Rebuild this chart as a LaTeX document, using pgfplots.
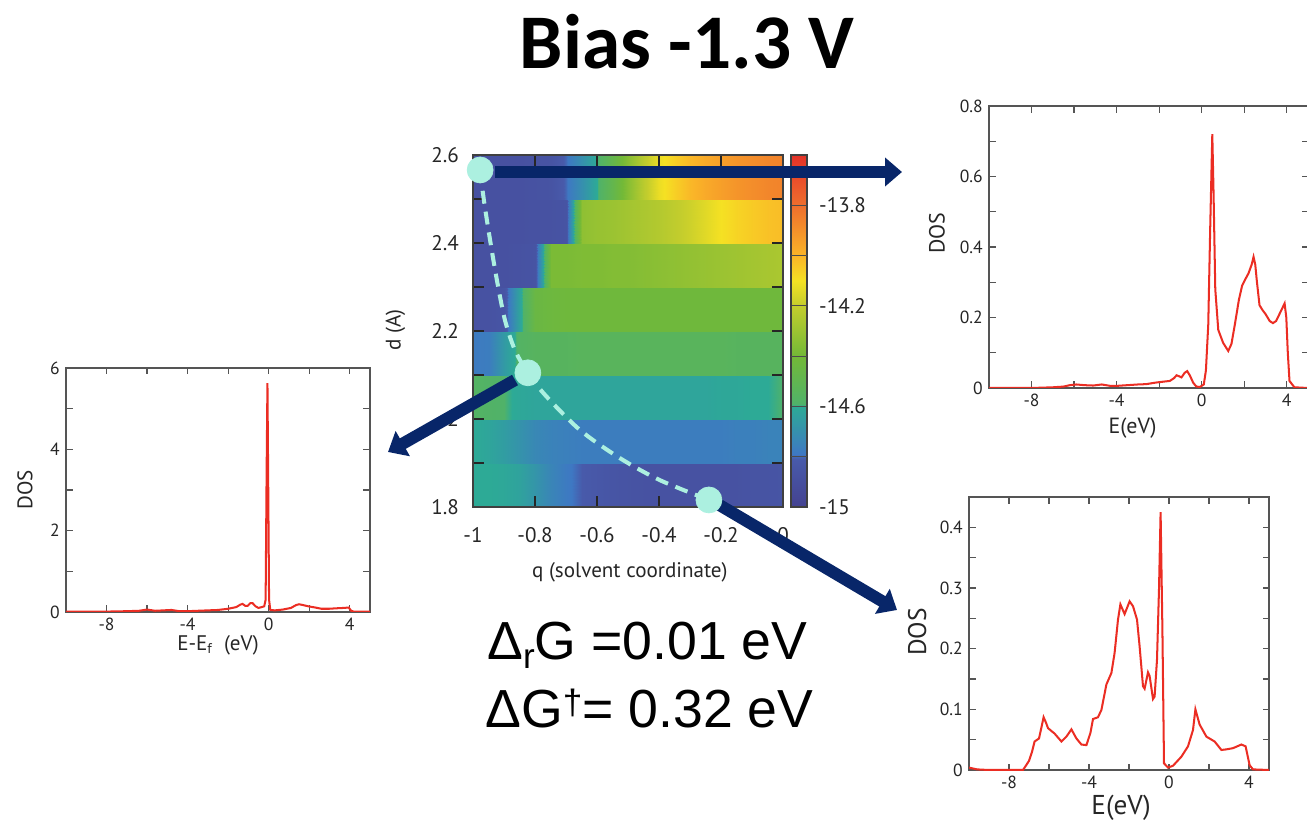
\documentclass[border=0pt]{standalone}
\usepackage{fontspec}
\setmainfont{PT Sans}
\newfontfamily\titlefont{Carlito}
\newfontfamily\eqfont{Liberation Sans}
\usepackage{pgfplots}
\pgfplotsset{compat=1.18}
\usetikzlibrary{arrows.meta}

\definecolor{navy}{RGB}{8,38,105}
\definecolor{aqua}{RGB}{172,240,224}
\definecolor{dosred}{RGB}{235,45,35}
\definecolor{frame}{RGB}{85,85,85}

\pgfplotsset{
  colormap={energy}{rgb255(0pt)=(68,66,145); rgb255(19pt)=(72,90,170);
    rgb255(21pt)=(62,120,195); rgb255(40pt)=(45,170,150); rgb255(41pt)=(80,178,105);
    rgb255(60pt)=(115,185,55); rgb255(80pt)=(195,205,45); rgb255(90pt)=(245,225,35);
    rgb255(100pt)=(250,180,40); rgb255(120pt)=(238,110,45); rgb255(140pt)=(228,50,40)},
  every axis/.append style={/pgf/number format/assume math mode=true},
  dos/.style={
    scale only axis, anchor=south west,
    xmin=-10, xmax=5, xtick={-8,-4,0,4}, minor xtick={-6,-2,2},
    tick align=inside, major tick length=0.13cm, minor tick length=0.13cm,
    axis line style={frame, line width=0.8pt},
    tick style={frame, line width=0.7pt},
    tick label style={font=\fontsize{10}{10}\selectfont, text=black!85},
    label style={text=black!85},
    ylabel={DOS},
  },
  dosline/.style={dosred, line width=1.15pt, mark=none},
}

\begin{document}
\begin{tikzpicture}
\useasboundingbox (0,0) rectangle (26.14cm,16.5cm);

% ---- energy map d vs q ----
\begin{axis}[
  at={(9.46cm,6.36cm)}, anchor=south west, scale only axis,
  width=6.2cm, height=7.04cm,
  xmin=-1, xmax=0, ymin=1.8, ymax=2.6,
  axis on top, colormap name=energy,
  point meta min=-15, point meta max=-13.6,
  xtick={-1,-0.8,-0.6,-0.4,-0.2,0},
  ytick={1.8,2,2.2,2.4,2.6}, minor ytick={1.9,2.1,2.3,2.5},
  tick align=inside, major tick length=0.22cm, minor tick length=0.22cm,
  tick style={black!85, line width=0.8pt},
  axis line style={black!75, line width=1pt},
  tick label style={font=\fontsize{12}{12}\selectfont, text=black!85},
  xticklabel style={yshift=-0.28cm}, yticklabel style={xshift=-0.16cm},
  label style={font=\fontsize{12}{13}\selectfont, text=black!85},
  xlabel={q (solvent coordinate)}, ylabel={d (A)},
  xlabel style={at={(axis description cs:0.506,-0.185)}, anchor=center},
  ylabel style={at={(axis description cs:-0.25,0.503)}, anchor=center},
]
\addplot[surf, shader=interp, mesh/cols=21, point meta=explicit] coordinates {
(-1,1.8)[-14.6] (-0.95,1.8)[-14.6] (-0.9,1.8)[-14.61] (-0.85,1.8)[-14.63] (-0.8,1.8)[-14.68] (-0.75,1.8)[-14.74] (-0.7,1.8)[-14.78] (-0.65,1.8)[-14.81] (-0.6,1.8)[-14.83] (-0.55,1.8)[-14.85] (-0.5,1.8)[-14.86] (-0.45,1.8)[-14.87] (-0.4,1.8)[-14.87] (-0.35,1.8)[-14.87] (-0.3,1.8)[-14.87] (-0.25,1.8)[-14.87] (-0.2,1.8)[-14.87] (-0.15,1.8)[-14.87] (-0.1,1.8)[-14.86] (-0.05,1.8)[-14.86] (0,1.8)[-14.85]
(-1,1.8995)[-14.6] (-0.95,1.8995)[-14.6] (-0.9,1.8995)[-14.61] (-0.85,1.8995)[-14.63] (-0.8,1.8995)[-14.68] (-0.75,1.8995)[-14.74] (-0.7,1.8995)[-14.78] (-0.65,1.8995)[-14.81] (-0.6,1.8995)[-14.83] (-0.55,1.8995)[-14.85] (-0.5,1.8995)[-14.86] (-0.45,1.8995)[-14.87] (-0.4,1.8995)[-14.87] (-0.35,1.8995)[-14.87] (-0.3,1.8995)[-14.87] (-0.25,1.8995)[-14.87] (-0.2,1.8995)[-14.87] (-0.15,1.8995)[-14.87] (-0.1,1.8995)[-14.86] (-0.05,1.8995)[-14.86] (0,1.8995)[-14.85]
(-1,1.9)[-14.6] (-0.95,1.9)[-14.62] (-0.9,1.9)[-14.65] (-0.85,1.9)[-14.69] (-0.8,1.9)[-14.73] (-0.75,1.9)[-14.75] (-0.7,1.9)[-14.76] (-0.65,1.9)[-14.77] (-0.6,1.9)[-14.77] (-0.55,1.9)[-14.77] (-0.5,1.9)[-14.77] (-0.45,1.9)[-14.77] (-0.4,1.9)[-14.77] (-0.35,1.9)[-14.77] (-0.3,1.9)[-14.77] (-0.25,1.9)[-14.77] (-0.2,1.9)[-14.77] (-0.15,1.9)[-14.76] (-0.1,1.9)[-14.76] (-0.05,1.9)[-14.75] (0,1.9)[-14.75]
(-1,1.9995)[-14.6] (-0.95,1.9995)[-14.62] (-0.9,1.9995)[-14.65] (-0.85,1.9995)[-14.69] (-0.8,1.9995)[-14.73] (-0.75,1.9995)[-14.75] (-0.7,1.9995)[-14.76] (-0.65,1.9995)[-14.77] (-0.6,1.9995)[-14.77] (-0.55,1.9995)[-14.77] (-0.5,1.9995)[-14.77] (-0.45,1.9995)[-14.77] (-0.4,1.9995)[-14.77] (-0.35,1.9995)[-14.77] (-0.3,1.9995)[-14.77] (-0.25,1.9995)[-14.77] (-0.2,1.9995)[-14.77] (-0.15,1.9995)[-14.76] (-0.1,1.9995)[-14.76] (-0.05,1.9995)[-14.75] (0,1.9995)[-14.75]
(-1,2.0)[-14.57] (-0.95,2.0)[-14.58] (-0.9,2.0)[-14.59] (-0.85,2.0)[-14.61] (-0.8,2.0)[-14.62] (-0.75,2.0)[-14.62] (-0.7,2.0)[-14.62] (-0.65,2.0)[-14.62] (-0.6,2.0)[-14.62] (-0.55,2.0)[-14.62] (-0.5,2.0)[-14.62] (-0.45,2.0)[-14.62] (-0.4,2.0)[-14.62] (-0.35,2.0)[-14.62] (-0.3,2.0)[-14.62] (-0.25,2.0)[-14.62] (-0.2,2.0)[-14.61] (-0.15,2.0)[-14.61] (-0.1,2.0)[-14.6] (-0.05,2.0)[-14.6] (0,2.0)[-14.59]
(-1,2.0995)[-14.57] (-0.95,2.0995)[-14.58] (-0.9,2.0995)[-14.59] (-0.85,2.0995)[-14.61] (-0.8,2.0995)[-14.62] (-0.75,2.0995)[-14.62] (-0.7,2.0995)[-14.62] (-0.65,2.0995)[-14.62] (-0.6,2.0995)[-14.62] (-0.55,2.0995)[-14.62] (-0.5,2.0995)[-14.62] (-0.45,2.0995)[-14.62] (-0.4,2.0995)[-14.62] (-0.35,2.0995)[-14.62] (-0.3,2.0995)[-14.62] (-0.25,2.0995)[-14.62] (-0.2,2.0995)[-14.61] (-0.15,2.0995)[-14.61] (-0.1,2.0995)[-14.6] (-0.05,2.0995)[-14.6] (0,2.0995)[-14.59]
(-1,2.1)[-14.78] (-0.95,2.1)[-14.77] (-0.9,2.1)[-14.66] (-0.85,2.1)[-14.57] (-0.8,2.1)[-14.55] (-0.75,2.1)[-14.55] (-0.7,2.1)[-14.55] (-0.65,2.1)[-14.54] (-0.6,2.1)[-14.54] (-0.55,2.1)[-14.54] (-0.5,2.1)[-14.54] (-0.45,2.1)[-14.54] (-0.4,2.1)[-14.54] (-0.35,2.1)[-14.54] (-0.3,2.1)[-14.54] (-0.25,2.1)[-14.54] (-0.2,2.1)[-14.54] (-0.15,2.1)[-14.55] (-0.1,2.1)[-14.55] (-0.05,2.1)[-14.55] (0,2.1)[-14.55]
(-1,2.1995)[-14.78] (-0.95,2.1995)[-14.77] (-0.9,2.1995)[-14.66] (-0.85,2.1995)[-14.57] (-0.8,2.1995)[-14.55] (-0.75,2.1995)[-14.55] (-0.7,2.1995)[-14.55] (-0.65,2.1995)[-14.54] (-0.6,2.1995)[-14.54] (-0.55,2.1995)[-14.54] (-0.5,2.1995)[-14.54] (-0.45,2.1995)[-14.54] (-0.4,2.1995)[-14.54] (-0.35,2.1995)[-14.54] (-0.3,2.1995)[-14.54] (-0.25,2.1995)[-14.54] (-0.2,2.1995)[-14.54] (-0.15,2.1995)[-14.55] (-0.1,2.1995)[-14.55] (-0.05,2.1995)[-14.55] (0,2.1995)[-14.55]
(-1,2.2)[-14.87] (-0.95,2.2)[-14.87] (-0.9,2.2)[-14.85] (-0.85,2.2)[-14.62] (-0.8,2.2)[-14.45] (-0.75,2.2)[-14.43] (-0.7,2.2)[-14.42] (-0.65,2.2)[-14.42] (-0.6,2.2)[-14.42] (-0.55,2.2)[-14.42] (-0.5,2.2)[-14.42] (-0.45,2.2)[-14.42] (-0.4,2.2)[-14.42] (-0.35,2.2)[-14.42] (-0.3,2.2)[-14.42] (-0.25,2.2)[-14.42] (-0.2,2.2)[-14.42] (-0.15,2.2)[-14.42] (-0.1,2.2)[-14.42] (-0.05,2.2)[-14.42] (0,2.2)[-14.42]
(-1,2.2995)[-14.87] (-0.95,2.2995)[-14.87] (-0.9,2.2995)[-14.85] (-0.85,2.2995)[-14.62] (-0.8,2.2995)[-14.45] (-0.75,2.2995)[-14.43] (-0.7,2.2995)[-14.42] (-0.65,2.2995)[-14.42] (-0.6,2.2995)[-14.42] (-0.55,2.2995)[-14.42] (-0.5,2.2995)[-14.42] (-0.45,2.2995)[-14.42] (-0.4,2.2995)[-14.42] (-0.35,2.2995)[-14.42] (-0.3,2.2995)[-14.42] (-0.25,2.2995)[-14.42] (-0.2,2.2995)[-14.42] (-0.15,2.2995)[-14.42] (-0.1,2.2995)[-14.42] (-0.05,2.2995)[-14.42] (0,2.2995)[-14.42]
(-1,2.3)[-14.88] (-0.95,2.3)[-14.88] (-0.9,2.3)[-14.88] (-0.85,2.3)[-14.87] (-0.8,2.3)[-14.86] (-0.75,2.3)[-14.38] (-0.7,2.3)[-14.38] (-0.65,2.3)[-14.37] (-0.6,2.3)[-14.37] (-0.55,2.3)[-14.36] (-0.5,2.3)[-14.36] (-0.45,2.3)[-14.35] (-0.4,2.3)[-14.34] (-0.35,2.3)[-14.33] (-0.3,2.3)[-14.32] (-0.25,2.3)[-14.31] (-0.2,2.3)[-14.3] (-0.15,2.3)[-14.29] (-0.1,2.3)[-14.28] (-0.05,2.3)[-14.27] (0,2.3)[-14.26]
(-1,2.3995)[-14.88] (-0.95,2.3995)[-14.88] (-0.9,2.3995)[-14.88] (-0.85,2.3995)[-14.87] (-0.8,2.3995)[-14.86] (-0.75,2.3995)[-14.38] (-0.7,2.3995)[-14.38] (-0.65,2.3995)[-14.37] (-0.6,2.3995)[-14.37] (-0.55,2.3995)[-14.36] (-0.5,2.3995)[-14.36] (-0.45,2.3995)[-14.35] (-0.4,2.3995)[-14.34] (-0.35,2.3995)[-14.33] (-0.3,2.3995)[-14.32] (-0.25,2.3995)[-14.31] (-0.2,2.3995)[-14.3] (-0.15,2.3995)[-14.29] (-0.1,2.3995)[-14.28] (-0.05,2.3995)[-14.27] (0,2.3995)[-14.26]
(-1,2.4)[-14.88] (-0.95,2.4)[-14.88] (-0.9,2.4)[-14.88] (-0.85,2.4)[-14.88] (-0.8,2.4)[-14.87] (-0.75,2.4)[-14.87] (-0.7,2.4)[-14.86] (-0.65,2.4)[-14.33] (-0.6,2.4)[-14.31] (-0.55,2.4)[-14.3] (-0.5,2.4)[-14.28] (-0.45,2.4)[-14.26] (-0.4,2.4)[-14.24] (-0.35,2.4)[-14.21] (-0.3,2.4)[-14.18] (-0.25,2.4)[-14.14] (-0.2,2.4)[-14.1] (-0.15,2.4)[-14.07] (-0.1,2.4)[-14.05] (-0.05,2.4)[-14.03] (0,2.4)[-14.02]
(-1,2.4995)[-14.88] (-0.95,2.4995)[-14.88] (-0.9,2.4995)[-14.88] (-0.85,2.4995)[-14.88] (-0.8,2.4995)[-14.87] (-0.75,2.4995)[-14.87] (-0.7,2.4995)[-14.86] (-0.65,2.4995)[-14.33] (-0.6,2.4995)[-14.31] (-0.55,2.4995)[-14.3] (-0.5,2.4995)[-14.28] (-0.45,2.4995)[-14.26] (-0.4,2.4995)[-14.24] (-0.35,2.4995)[-14.21] (-0.3,2.4995)[-14.18] (-0.25,2.4995)[-14.14] (-0.2,2.4995)[-14.1] (-0.15,2.4995)[-14.07] (-0.1,2.4995)[-14.05] (-0.05,2.4995)[-14.03] (0,2.4995)[-14.02]
(-1,2.5)[-14.88] (-0.95,2.5)[-14.88] (-0.9,2.5)[-14.88] (-0.85,2.5)[-14.88] (-0.8,2.5)[-14.87] (-0.75,2.5)[-14.86] (-0.7,2.5)[-14.8] (-0.65,2.5)[-14.7] (-0.6,2.5)[-14.6] (-0.55,2.5)[-14.48] (-0.5,2.5)[-14.35] (-0.45,2.5)[-14.22] (-0.4,2.5)[-14.12] (-0.35,2.5)[-14.06] (-0.3,2.5)[-14.01] (-0.25,2.5)[-13.97] (-0.2,2.5)[-13.94] (-0.15,2.5)[-13.91] (-0.1,2.5)[-13.89] (-0.05,2.5)[-13.87] (0,2.5)[-13.86]
(-1,2.6)[-14.88] (-0.95,2.6)[-14.88] (-0.9,2.6)[-14.88] (-0.85,2.6)[-14.88] (-0.8,2.6)[-14.87] (-0.75,2.6)[-14.86] (-0.7,2.6)[-14.8] (-0.65,2.6)[-14.7] (-0.6,2.6)[-14.6] (-0.55,2.6)[-14.48] (-0.5,2.6)[-14.35] (-0.45,2.6)[-14.22] (-0.4,2.6)[-14.12] (-0.35,2.6)[-14.06] (-0.3,2.6)[-14.01] (-0.25,2.6)[-13.97] (-0.2,2.6)[-13.94] (-0.15,2.6)[-13.91] (-0.1,2.6)[-13.89] (-0.05,2.6)[-13.87] (0,2.6)[-13.86]
};
\end{axis}

% ---- colour bar ----
\begin{axis}[
  at={(15.82cm,6.36cm)}, anchor=south west, scale only axis,
  width=0.32cm, height=7.04cm,
  xmin=0, xmax=1, ymin=-15, ymax=-13.6,
  axis on top, colormap name=energy,
  point meta min=-15, point meta max=-13.6,
  xtick=\empty, ytick={-15,-14.6,-14.2,-13.8},
  yticklabel pos=right, major tick length=0pt,
  extra y ticks={-14.8,-14.4,-14.0}, extra y tick labels={},
  extra y tick style={grid=major, major grid style={black!70, line width=0.6pt}},
  ymajorgrids, major grid style={black!70, line width=0.6pt},
  axis line style={black!75, line width=1pt},
  tick label style={font=\fontsize{12}{12}\selectfont, text=black!85},
  yticklabel style={xshift=0.12cm},
]
\addplot[surf, shader=interp, mesh/cols=2, point meta=explicit] coordinates {
(0,-15)[-15] (1,-15)[-15]
(0,-13.6)[-13.6] (1,-13.6)[-13.6]
};
\end{axis}

% ---- arrows from path points to the DOS panels ----
\draw[navy, line width=0.25cm, -{Triangle[length=0.34cm, width=0.56cm]}] (9.9cm,13.06cm) -- (18.04cm,13.06cm);
\draw[navy, line width=0.24cm, -{Triangle[length=0.34cm, width=0.56cm]}] (10.3cm,8.9cm) -- (7.76cm,7.46cm);
\draw[navy, line width=0.24cm, -{Triangle[length=0.34cm, width=0.56cm]}] (14.32cm,6.44cm) -- (17.94cm,4.30cm);

% ---- minimum energy path and its three points ----
\begin{axis}[
  at={(9.46cm,6.36cm)}, anchor=south west, scale only axis,
  width=6.2cm, height=7.04cm,
  xmin=-1, xmax=0, ymin=1.8, ymax=2.6,
  hide axis, clip=false,
]
\addplot[aqua, line width=2.3pt, dash pattern=on 0.26cm off 0.16cm, smooth, mark=none] coordinates {
(-0.977,2.566) (-0.965,2.498) (-0.945,2.407) (-0.923,2.316) (-0.897,2.225)
(-0.865,2.157) (-0.823,2.105) (-0.768,2.055) (-0.655,1.975) (-0.526,1.911)
(-0.397,1.861) (-0.239,1.816)
};
\addplot[only marks, mark=*, mark size=0.26cm, mark options={draw=aqua, fill=aqua}] coordinates {
(-0.977,2.566) (-0.823,2.105) (-0.239,1.816)
};
\end{axis}

% ---- DOS, left ----
\begin{axis}[dos, at={(1.32cm,4.26cm)}, width=6.08cm, height=4.88cm,
  ymin=0, ymax=6, ytick={0,2,4,6}, minor ytick={1,3,5},
  label style={font=\fontsize{12}{13}\selectfont},
  xlabel={E-E\textsubscript{f}\ \ (eV)},
  xlabel style={at={(axis description cs:0.5,-0.135)}, anchor=center},
  ylabel style={at={(axis description cs:-0.135,0.5)}, anchor=center},
]
\addplot[dosline] coordinates {
(-10,0.01) (-9,0.01) (-8,0.01) (-7,0.02) (-6.4,0.03) (-6,0.06) (-5.6,0.03)
(-5.2,0.04) (-4.8,0.05) (-4.4,0.02) (-4,0.02) (-3.5,0.03) (-3,0.04) (-2.5,0.05)
(-2,0.08) (-1.6,0.12) (-1.4,0.18) (-1.29,0.2) (-1.15,0.15) (-1.04,0.15)
(-0.9,0.22) (-0.8,0.22) (-0.65,0.14) (-0.5,0.1) (-0.35,0.12) (-0.22,0.14)
(-0.15,0.3) (-0.1,3.5) (-0.06,5.63) (-0.02,3.0) (0.02,0.3) (0.08,0.05)
(0.3,0.04) (0.7,0.06) (1.1,0.1) (1.35,0.17) (1.5,0.19) (1.7,0.17) (1.95,0.14)
(2.3,0.11) (2.6,0.08) (3.0,0.08) (3.3,0.09) (3.7,0.1) (3.95,0.11) (4.07,0.03)
(4.2,0.01) (5,0.01)
};
\end{axis}

% ---- DOS, top right ----
\begin{axis}[dos, at={(19.78cm,8.74cm)}, width=6.38cm, height=5.64cm,
  ymin=0, ymax=0.8, ytick={0,0.2,0.4,0.6,0.8}, minor ytick={0.1,0.3,0.5,0.7},
  label style={font=\fontsize{12.5}{13}\selectfont},
  xlabel={E(eV)},
  xlabel style={at={(axis description cs:0.45,-0.142)}, anchor=center},
  ylabel style={at={(axis description cs:-0.163,0.55)}, anchor=center},
]
\addplot[dosline] coordinates {
(-10,0) (-8,0) (-7,0.002) (-6.5,0.004) (-6.2,0.008) (-5.9,0.01) (-5.5,0.008)
(-5.1,0.007) (-4.7,0.01) (-4.3,0.006) (-4,0.006) (-3.5,0.008) (-3,0.01)
(-2.6,0.011) (-2.2,0.015) (-1.8,0.018) (-1.5,0.02) (-1.3,0.028) (-1.18,0.036)
(-1.05,0.033) (-0.95,0.03) (-0.8,0.043) (-0.68,0.048) (-0.55,0.035)
(-0.4,0.015) (-0.25,0.004) (-0.08,0.003) (0.1,0.01) (0.2,0.05) (0.31,0.18)
(0.4,0.45) (0.5,0.72) (0.56,0.55) (0.64,0.28) (0.78,0.165) (1.01,0.128)
(1.25,0.105) (1.4,0.125) (1.56,0.18) (1.75,0.25) (1.9,0.29) (2.02,0.305)
(2.2,0.325) (2.35,0.35) (2.44,0.372) (2.52,0.35) (2.6,0.3) (2.72,0.235)
(2.85,0.222) (3.0,0.21) (3.2,0.19) (3.35,0.184) (3.5,0.19) (3.7,0.215)
(3.9,0.24) (3.98,0.2) (4.05,0.1) (4.13,0.02) (4.36,0.002) (5,0)
};
\end{axis}

% ---- DOS, bottom right ----
\begin{axis}[dos, at={(19.38cm,1.10cm)}, width=6.0cm, height=5.46cm,
  ymin=0, ymax=0.45, ytick={0,0.1,0.2,0.3,0.4}, minor ytick={0.05,0.15,0.25,0.35},
  xlabel={E(eV)},
  xlabel style={at={(axis description cs:0.507,-0.138)}, anchor=center, inner sep=0.5pt, font=\fontsize{15.5}{16}\selectfont},
  ylabel style={at={(axis description cs:-0.173,0.505)}, anchor=center, font=\fontsize{14.5}{15}\selectfont},
]
\addplot[dosline] coordinates {
(-10,0.004) (-9.6,0.001) (-9,0) (-7.3,0) (-7.0,0.015) (-6.85,0.03) (-6.72,0.047)
(-6.5,0.052) (-6.38,0.07) (-6.27,0.087) (-6.15,0.078) (-6.05,0.069) (-5.72,0.06)
(-5.38,0.047) (-5.13,0.055) (-4.88,0.067) (-4.63,0.052) (-4.38,0.042)
(-4.13,0.041) (-3.93,0.061) (-3.8,0.084) (-3.55,0.087) (-3.38,0.099)
(-3.13,0.141) (-2.88,0.16) (-2.72,0.193) (-2.55,0.248) (-2.43,0.273)
(-2.22,0.257) (-1.97,0.278) (-1.8,0.27) (-1.6,0.248) (-1.47,0.204) (-1.3,0.138)
(-1.22,0.134) (-1.05,0.161) (-0.97,0.155) (-0.8,0.117) (-0.72,0.121)
(-0.6,0.182) (-0.5,0.298) (-0.42,0.425) (-0.33,0.232) (-0.25,0.011)
(-0.05,0.004) (0.2,0.007) (0.62,0.022) (0.95,0.039) (1.2,0.066) (1.32,0.1)
(1.53,0.075) (1.87,0.055) (2.28,0.047) (2.62,0.033) (2.87,0.034) (3.2,0.036)
(3.62,0.042) (3.83,0.039) (4.03,0.008) (4.2,0.001) (5,0)
};
\end{axis}

% ---- title and free energies ----
\node[anchor=base] at (13.74cm,15.12cm) {\titlefont\bfseries\fontsize{44}{44}\selectfont Bias -1.3 V};
\node[anchor=base west, inner sep=0pt] at (9.74cm,3.3cm)
  {\eqfont\fontsize{30.5}{32}\selectfont Δ\raisebox{-0.3ex}{\fontsize{20}{20}\selectfont r}G =0.01 eV};
\node[anchor=base west, inner sep=0pt] at (9.7cm,1.96cm)
  {\eqfont\fontsize{30.5}{32}\selectfont ΔG\raisebox{0.45ex}{\fontsize{20}{20}\selectfont †}= 0.32 eV};
\end{tikzpicture}
\end{document}
